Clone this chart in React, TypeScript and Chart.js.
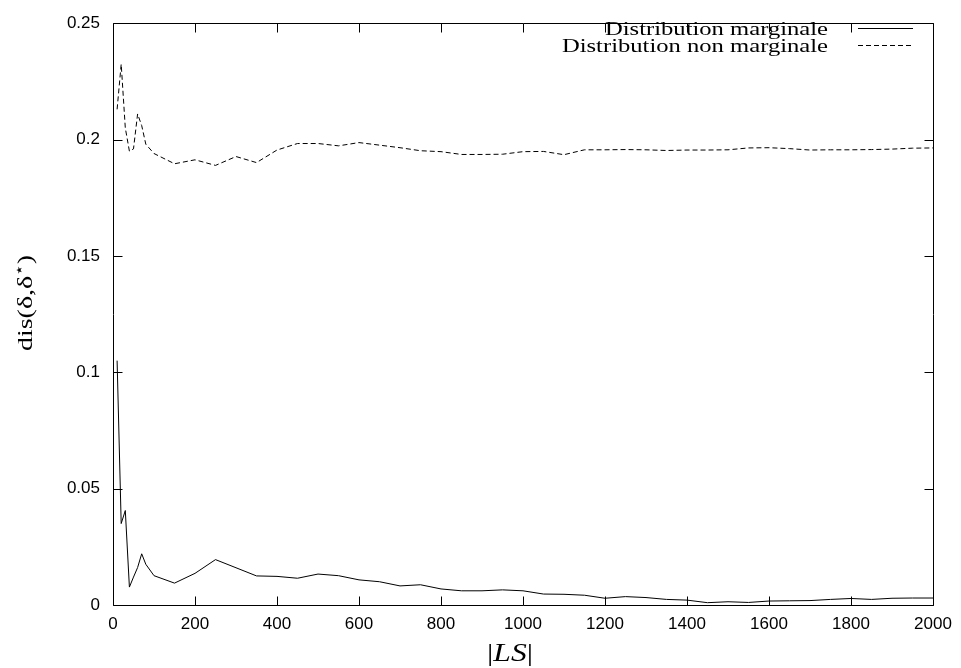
import React, { useEffect, useRef } from "react";
import { Chart, registerables } from "chart.js";

Chart.register(...registerables);

// |LS| values (x axis)
const sizes = [
  10, 20, 30, 40, 50, 60, 70, 80, 100,
  150, 200, 250, 300, 350, 400, 450, 500, 550, 600,
  650, 700, 750, 800, 850, 900, 950, 1000,
  1050, 1100, 1150, 1200, 1250, 1300, 1350, 1400,
  1450, 1500, 1550, 1600, 1650, 1700, 1750, 1800,
  1850, 1900, 1950, 2000,
];

// "Distribution marginale" (solid)
const marginal = [
  0.105, 0.035, 0.0406, 0.0077, 0.012, 0.0161, 0.022, 0.0175, 0.0126,
  0.0094, 0.0136, 0.0195, 0.016, 0.0125, 0.0123, 0.0115, 0.0133, 0.0126, 0.0108,
  0.01, 0.0082, 0.0087, 0.0069, 0.0061, 0.0061, 0.0065, 0.0061,
  0.0047, 0.0046, 0.0042, 0.0029, 0.0036, 0.0032, 0.0024, 0.0021,
  0.001, 0.0014, 0.0011, 0.0017, 0.0018, 0.0019, 0.0024, 0.0028,
  0.0024, 0.0029, 0.003, 0.003,
];

// "Distribution non marginale" (dashed)
const nonMarginal = [
  0.213, 0.2324, 0.205, 0.195, 0.196, 0.211, 0.206, 0.198, 0.194,
  0.1896, 0.1913, 0.1889, 0.1927, 0.1901, 0.1955, 0.1983, 0.1983, 0.1973, 0.1987,
  0.1976, 0.1965, 0.1952, 0.1948, 0.1936, 0.1936, 0.1937, 0.1948,
  0.1949, 0.1935, 0.1956, 0.1956, 0.1957, 0.1956, 0.1953, 0.1955,
  0.1955, 0.1956, 0.1964, 0.1965, 0.1961, 0.1955, 0.1956, 0.1956,
  0.1957, 0.1959, 0.1963, 0.1964,
];

const seriesLabels = ["Distribution marginale", "Distribution non marginale"];
const xTickLabels = ["0", "200", "400", "600", "800", "1000", "1200", "1400", "1600", "1800", "2000"];
const yTickLabels = ["0", "0.05", "0.1", "0.15", "0.2", "0.25"];

const SERIF = "'Liberation Serif', 'DejaVu Serif', serif";
const SANS = "'Liberation Sans', Arial, sans-serif";

type Part = { t: string; font: string; dy?: number };

function partsWidth(ctx: CanvasRenderingContext2D, parts: Part[]) {
  let w = 0;
  for (const p of parts) {
    ctx.font = p.font;
    w += ctx.measureText(p.t).width;
  }
  return w;
}

function drawParts(
  ctx: CanvasRenderingContext2D,
  parts: Part[],
  align: "left" | "center" | "right",
  sx: number
) {
  const w = partsWidth(ctx, parts);
  ctx.save();
  ctx.scale(sx, 1);
  let cx = align === "center" ? -w / 2 : align === "right" ? -w : 0;
  ctx.textAlign = "left";
  ctx.textBaseline = "alphabetic";
  for (const p of parts) {
    ctx.font = p.font;
    ctx.fillText(p.t, cx, p.dy || 0);
    cx += ctx.measureText(p.t).width;
  }
  ctx.restore();
}

const gnuplotFrame = {
  id: "gnuplotFrame",
  afterDatasetsDraw(chart: any) {
    const { ctx, chartArea: a, scales } = chart;
    const xs = scales.x;
    const ys = scales.y;
    const L = Math.round(a.left) + 0.5;
    const R = Math.round(a.right) + 0.5;
    const T = Math.round(a.top) + 0.5;
    const B = Math.round(a.bottom) + 0.5;
    const tl = 9;
    ctx.save();
    ctx.strokeStyle = "#000";
    ctx.lineWidth = 1;
    ctx.setLineDash([]);
    ctx.beginPath();
    ctx.rect(L, T, R - L, B - T);
    for (const t of xs.ticks) {
      const px = Math.round(xs.getPixelForValue(t.value)) + 0.5;
      ctx.moveTo(px, B);
      ctx.lineTo(px, B - tl);
      ctx.moveTo(px, T);
      ctx.lineTo(px, T + tl);
    }
    for (const t of ys.ticks) {
      const py = Math.round(ys.getPixelForValue(t.value)) + 0.5;
      ctx.moveTo(L, py);
      ctx.lineTo(L + tl, py);
      ctx.moveTo(R, py);
      ctx.lineTo(R - tl, py);
    }
    ctx.stroke();

    // Legend (top-right, inside the frame)
    ctx.fillStyle = "#000";
    const legFont = `19px ${SERIF}`;
    const row1: Part[] = [{ t: seriesLabels[0], font: legFont }];
    const row2: Part[] = [{ t: seriesLabels[1], font: legFont }];
    const s = 223 / partsWidth(ctx, row1);
    ctx.save();
    ctx.translate(828, 35);
    drawParts(ctx, row1, "right", s);
    ctx.restore();
    ctx.save();
    ctx.translate(828, 52);
    drawParts(ctx, row2, "right", s);
    ctx.restore();

    ctx.beginPath();
    ctx.moveTo(858, 28.5);
    ctx.lineTo(913, 28.5);
    ctx.stroke();
    ctx.setLineDash([5, 3]);
    ctx.beginPath();
    ctx.moveTo(858, 45.5);
    ctx.lineTo(913, 45.5);
    ctx.stroke();
    ctx.setLineDash([]);

    // Y axis title: dis(δ,δ⋆)
    const yParts: Part[] = [
      { t: "dis(δ,δ", font: `22px ${SERIF}` },
      { t: "⋆", font: `15px ${SERIF}`, dy: -8 },
      { t: ")", font: `22px ${SERIF}` },
    ];
    ctx.save();
    ctx.translate(32, 303);
    ctx.rotate(-Math.PI / 2);
    drawParts(ctx, yParts, "center", 96 / partsWidth(ctx, yParts));
    ctx.restore();

    // X axis title: |LS|
    const xParts: Part[] = [
      { t: "|", font: `26px ${SERIF}` },
      { t: "LS", font: `italic 26px ${SERIF}` },
      { t: "|", font: `26px ${SERIF}` },
    ];
    ctx.save();
    ctx.translate(510, 661);
    drawParts(ctx, xParts, "center", 46 / partsWidth(ctx, xParts));
    ctx.restore();

    ctx.restore();
  },
};

export default function App() {
  const ref = useRef<HTMLCanvasElement | null>(null);

  useEffect(() => {
    if (!ref.current) return;
    const chart = new Chart(ref.current, {
      type: "line",
      data: {
        datasets: [
          {
            label: seriesLabels[0],
            data: sizes.map((x, i) => ({ x, y: marginal[i] })),
            borderColor: "#000",
            borderWidth: 1,
            pointRadius: 0,
            tension: 0,
            fill: false,
          },
          {
            label: seriesLabels[1],
            data: sizes.map((x, i) => ({ x, y: nonMarginal[i] })),
            borderColor: "#000",
            borderWidth: 1,
            borderDash: [5, 3],
            pointRadius: 0,
            tension: 0,
            fill: false,
          },
        ],
      },
      options: {
        responsive: false,
        animation: false,
        devicePixelRatio: 1,
        layout: { padding: { top: 10, right: 28, left: 0, bottom: 0 } },
        plugins: {
          legend: { display: false },
          tooltip: { enabled: false },
        },
        scales: {
          x: {
            type: "linear",
            min: 0,
            max: 2000,
            grid: { display: false, drawTicks: false },
            border: { display: false },
            ticks: {
              stepSize: 200,
              padding: 9,
              maxRotation: 0,
              autoSkip: false,
              color: "#000",
              font: { family: SANS, size: 17 },
              callback: (_v: any, i: number) => xTickLabels[i],
            },
            afterFit: (s: any) => {
              s.height = 63;
            },
          },
          y: {
            type: "linear",
            min: 0,
            max: 0.25,
            grid: { display: false, drawTicks: false },
            border: { display: false },
            ticks: {
              stepSize: 0.05,
              padding: 13,
              autoSkip: false,
              color: "#000",
              font: { family: SANS, size: 17 },
              callback: (_v: any, i: number) => yTickLabels[i],
            },
            afterFit: (s: any) => {
              s.width = 113;
            },
          },
        },
      } as any,
      plugins: [gnuplotFrame],
    });
    return () => chart.destroy();
  }, []);

  return (
    <div style={{ position: "absolute", left: 0, top: 0, width: 961, height: 668, background: "#fff" }}>
      <canvas ref={ref} width={961} height={668} style={{ display: "block" }} />
    </div>
  );
}
